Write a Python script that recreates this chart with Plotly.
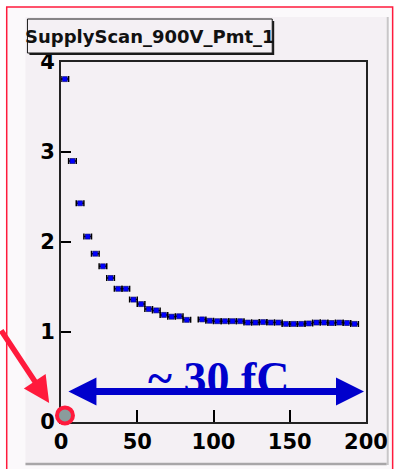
import plotly.graph_objects as go

# ---- data: supply scan, PMT 1 at 900 V ----
bin_center = [2.5, 7.5, 12.5, 17.5, 22.5, 27.5, 32.5, 37.5, 42.5, 47.5,
              52.5, 57.5, 62.5, 67.5, 72.5, 77.5, 82.5,
              92.5, 97.5, 102.5, 107.5, 112.5, 117.5, 122.5, 127.5, 132.5,
              137.5, 142.5, 147.5, 152.5, 157.5, 162.5, 167.5, 172.5,
              177.5, 182.5, 187.5, 192.5]
value = [3.81, 2.90, 2.43, 2.06, 1.87, 1.73, 1.60, 1.48, 1.48, 1.36,
         1.31, 1.255, 1.24, 1.19, 1.17, 1.175, 1.135,
         1.14, 1.125, 1.12, 1.12, 1.12, 1.12, 1.105, 1.105, 1.11,
         1.105, 1.105, 1.09, 1.09, 1.09, 1.095, 1.105, 1.105,
         1.10, 1.105, 1.10, 1.09]
bin_half_width = [2.5] * len(bin_center)

x_ticks = [0, 50, 100, 150, 200]
y_ticks = [0, 1, 2, 3, 4]
extra_x_ticks = [85, 90, 195]

title_text = "SupplyScan_900V_Pmt_1"
span_text = "~ 30 fC"

# ---- canvas geometry ----
W, H = 400, 469
L, R, T, B = 61, 30, 62, 47
PW, PH = W - L - R, H - T - B


def px(x):
    return (x - L) / PW


def py(y):
    return (H - B - y) / PH


PANEL = "#f4f0f4"
BLUE = "#0000cc"
RED = "#ff1a3c"
TICK_FONT = dict(family="DejaVu Sans", size=21, color="black", weight="bold")

fig = go.Figure()

fig.add_trace(go.Scatter(
    x=bin_center, y=value, mode="markers",
    marker=dict(symbol="square", size=5, color="#0000ff",
                line=dict(width=0.6, color="#000060")),
    error_x=dict(type="data", array=bin_half_width, visible=True,
                 color="black", thickness=1.5, width=3),
    showlegend=False, hoverinfo="skip",
))

# highlighted pedestal marker at the origin
fig.add_trace(go.Scatter(
    x=[2.6], y=[0.073], mode="markers",
    marker=dict(symbol="circle", size=16, color="#8a9c9c",
                line=dict(width=4, color=RED)),
    cliponaxis=False, showlegend=False, hoverinfo="skip",
))

shapes = [
    # outer red frame
    dict(type="rect", xref="paper", yref="paper", layer="below",
         x0=px(6), x1=px(397), y0=py(485), y1=py(7),
         line=dict(color=RED, width=1.5), fillcolor="#fbf9fb"),
    # canvas panel
    dict(type="rect", xref="paper", yref="paper", layer="below",
         x0=px(25), x1=px(391), y0=py(463), y1=py(17),
         line=dict(width=0), fillcolor=PANEL),
    dict(type="line", xref="paper", yref="paper", layer="below",
         x0=px(25), x1=px(391), y0=py(464), y1=py(464),
         line=dict(color="#a8a6a8", width=2.5)),
    dict(type="line", xref="paper", yref="paper", layer="below",
         x0=px(392), x1=px(392), y0=py(465), y1=py(17),
         line=dict(color="#c8c6c8", width=2)),
    # title box shadow and box
    dict(type="rect", xref="paper", yref="paper", layer="above",
         x0=px(29), x1=px(277), y0=py(55), y1=py(21),
         line=dict(width=0), fillcolor="#1a1a1a"),
    dict(type="rect", xref="paper", yref="paper", layer="above",
         x0=px(27), x1=px(275), y0=py(53), y1=py(19),
         line=dict(color="#1a1a1a", width=1), fillcolor=PANEL),
]

annotations = [
    dict(xref="paper", yref="paper", x=px(151), y=py(36.5),
         text=title_text, showarrow=False, xanchor="center", yanchor="middle",
         font=dict(family="DejaVu Sans", size=18, color="#111111", weight="bold")),
    dict(xref="x", yref="y", x=103, y=0.48, text=span_text, showarrow=False,
         xanchor="center", yanchor="middle",
         font=dict(family="Liberation Serif", size=46, color=BLUE, weight="bold")),
    dict(xref="x", yref="y", x=198.7, y=0.34, axref="x", ayref="y",
         ax=3.9, ay=0.34, text="", showarrow=True, arrowside="end+start",
         arrowhead=2, startarrowhead=2, arrowwidth=7,
         arrowsize=0.8, startarrowsize=0.8, arrowcolor=BLUE,
         standoff=0, startstandoff=0),
    dict(xref="paper", yref="paper", x=px(49), y=py(403), ax=-49, ay=-74,
         text="", showarrow=True, arrowhead=2, arrowwidth=5.5,
         arrowsize=0.95, arrowcolor=RED, standoff=0),
]

fig.update_layout(
    width=W, height=H,
    margin=dict(l=L, r=R, t=T, b=B, pad=0),
    paper_bgcolor="white", plot_bgcolor=PANEL,
    shapes=shapes, annotations=annotations,
    xaxis=dict(range=[0, 200], tickvals=x_ticks, ticks="inside", ticklen=12,
               tickwidth=1.5, tickcolor="black", showgrid=False, zeroline=False,
               showline=True, linecolor="#222222", linewidth=2, mirror=True,
               tickfont=TICK_FONT, layer="below traces"),
    xaxis2=dict(range=[0, 200], overlaying="x", anchor="y", side="bottom",
                tickvals=extra_x_ticks, ticks="inside", ticklen=6, tickwidth=1.5,
                tickcolor="black", showticklabels=False, showgrid=False,
                zeroline=False, showline=False),
    yaxis=dict(range=[0, 4], tickvals=y_ticks, ticks="inside", ticklen=10,
               tickwidth=1.5, tickcolor="black", showgrid=False, zeroline=False,
               showline=True, linecolor="#222222", linewidth=2, mirror=True,
               tickfont=TICK_FONT, layer="below traces"),
)

fig.write_html("out.html")
